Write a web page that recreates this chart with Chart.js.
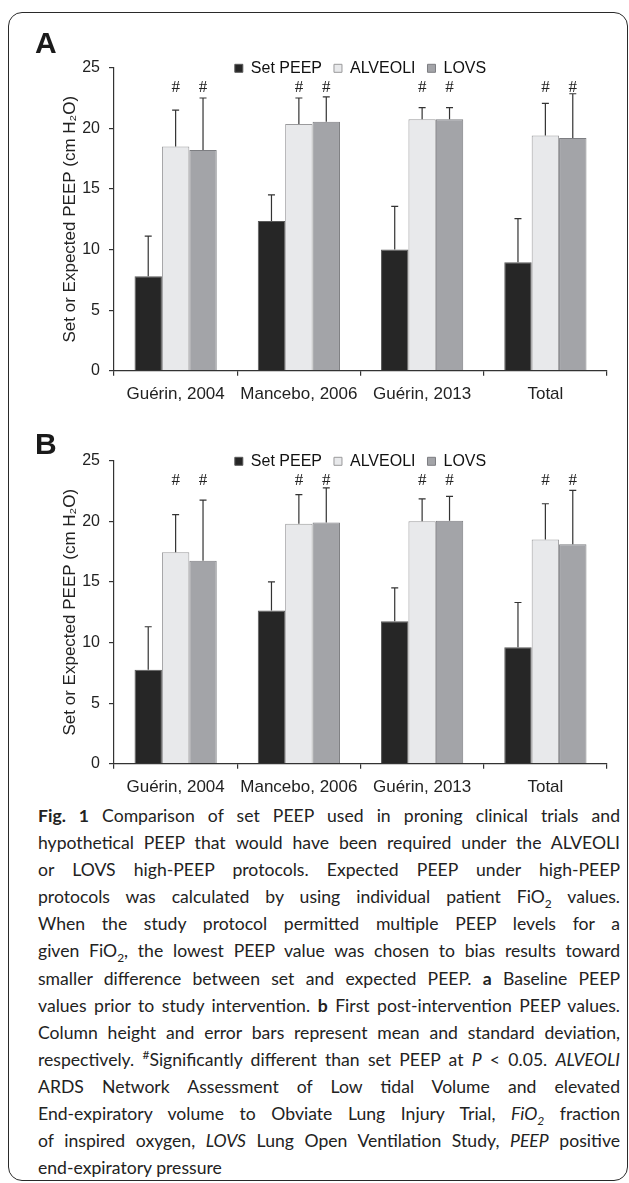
<!DOCTYPE html>
<html>
<head>
<meta charset="utf-8">
<script src="https://cdn.jsdelivr.net/npm/chart.js@4.4.1/dist/chart.umd.min.js"></script>
<style>
  html, body { margin: 0; padding: 0; background: #fff; }
  body { width: 629px; height: 1183px; position: relative; overflow: hidden; }
  .frame { position: absolute; left: 8px; top: 12px; width: 618px; height: 1167px;
           border: 1.5px solid #2a2a2a; border-radius: 14px; }
  .panel { position: absolute; left: 0; width: 629px; height: 405px; }
  .letter { position: absolute; left: 35px; font: bold 30px/30px 'Liberation Sans', Arial, sans-serif; color: #1a1a1a; }
  .caption { position: absolute; left: 38px; top: 802px; width: 582px; font-family: Lato, 'Open Sans', sans-serif;
             font-size: 17.6px; line-height: 27.1px; color: #222; }
  .caption div { text-align: justify; text-align-last: justify; white-space: nowrap; }
  .caption div.last { text-align-last: left; }
  .caption sub, .caption sup { font-size: 68%; line-height: 0; }
</style>
</head>
<body>
<div class="frame"></div>

<div class="panel" style="top:0px"><canvas id="chart-a"></canvas></div>
<div class="panel" style="top:392.6px"><canvas id="chart-b"></canvas></div>
<div class="letter" style="top:27.8px">A</div>
<div class="letter" style="top:429.1px">B</div>

<div class="caption">
  <div><b>Fig. 1</b> Comparison of set PEEP used in proning clinical trials and</div>
  <div>hypothetical PEEP that would have been required under the ALVEOLI</div>
  <div>or LOVS high-PEEP protocols. Expected PEEP under high-PEEP</div>
  <div>protocols was calculated by using individual patient FiO<sub>2</sub> values.</div>
  <div>When the study protocol permitted multiple PEEP levels for a</div>
  <div>given FiO<sub>2</sub>, the lowest PEEP value was chosen to bias results toward</div>
  <div>smaller difference between set and expected PEEP. <b>a</b> Baseline PEEP</div>
  <div>values prior to study intervention. <b>b</b> First post-intervention PEEP values.</div>
  <div>Column height and error bars represent mean and standard deviation,</div>
  <div>respectively. <sup>#</sup>Significantly different than set PEEP at <i>P</i> &lt; 0.05. <i>ALVEOLI</i></div>
  <div>ARDS Network Assessment of Low tidal Volume and elevated</div>
  <div>End-expiratory volume to Obviate Lung Injury Trial, <i>FiO<sub>2</sub></i> fraction</div>
  <div>of inspired oxygen, <i>LOVS</i> Lung Open Ventilation Study, <i>PEEP</i> positive</div>
  <div class="last">end-expiratory pressure</div>
</div>

<script>
'use strict';

// ***** DATA *****

let categories = ['Guérin, 2004', 'Mancebo, 2006', 'Guérin, 2013', 'Total'];
let seriesLabels = ['Set PEEP', 'ALVEOLI', 'LOVS'];
let yTicks = [0, 5, 10, 15, 20, 25];
let markedSeries = [false, true, true];   // '#' = different from set PEEP

// panel A, baseline (mean and SD)
let setPeepA = [7.8, 12.35, 10.0, 8.95];
let setPeepSdA = [3.3, 2.15, 3.55, 3.6];
let alveoliA = [18.5, 20.35, 20.75, 19.4];
let alveoliSdA = [3.0, 2.15, 0.95, 2.65];
let lovsA = [18.2, 20.55, 20.75, 19.2];
let lovsSdA = [4.3, 2.05, 0.95, 3.65];

// panel B, first post-intervention
let setPeepB = [7.75, 12.65, 11.75, 9.6];
let setPeepSdB = [3.55, 2.35, 2.75, 3.7];
let alveoliB = [17.45, 19.8, 20.0, 18.5];
let alveoliSdB = [3.1, 2.4, 1.85, 2.95];
let lovsB = [16.75, 19.9, 20.05, 18.1];
let lovsSdB = [5.0, 2.85, 2.0, 4.45];

// ***** STYLE *****

let barFills = ['#262626', '#e8e9eb', '#a3a4a8'];
let barEdges = ['#5a5a5a', '#9a9a9c', '#7d7e82'];

Chart.defaults.font.family = "'Liberation Sans', Arial, sans-serif";
Chart.defaults.color = '#222';

// ***** PLUGINS *****

// error bars (mean + SD, upper half only) and the '#' marks
let errorBars = {
    id: 'errorBars',
    afterDatasetsDraw(chart) {
        let ctx = chart.ctx;
        let y = chart.scales.y;
        chart.data.datasets.forEach((ds, i) => {
            let meta = chart.getDatasetMeta(i);
            meta.data.forEach((bar, j) => {
                let top = y.getPixelForValue(ds.data[j] + ds.sd[j]);
                ctx.save();
                ctx.strokeStyle = '#333';
                ctx.lineWidth = 1.2;
                ctx.beginPath();
                ctx.moveTo(bar.x, bar.y);
                ctx.lineTo(bar.x, top);
                ctx.moveTo(bar.x - 3.5, top);
                ctx.lineTo(bar.x + 3.5, top);
                ctx.stroke();
                if (ds.marked) {
                    ctx.fillStyle = '#222';
                    ctx.font = "17px 'Liberation Serif', serif";
                    ctx.textAlign = 'center';
                    ctx.textBaseline = 'middle';
                    ctx.fillText('#', bar.x, y.getPixelForValue(23.4));
                }
                ctx.restore();
            });
        });
    }
};

// legend sits level with the top tick, as in the original
let legendNudge = {
    id: 'legendNudge',
    afterLayout(chart) {
        let lg = chart.legend;
        if (!lg) return;
        let cur = lg.top + lg.options.labels.padding + 8;
        let dy = chart.chartArea.top + 0.6 - cur;
        lg.top += dy;
        lg.bottom += dy;
    }
};

// ***** CHART BUILDER *****

function buildChart(canvasId, means, sds) {
    let datasets = seriesLabels.map((label, i) => ({
        label: label,
        data: means[i],
        sd: sds[i],
        marked: markedSeries[i],
        backgroundColor: barFills[i],
        borderColor: barEdges[i],
        borderWidth: 1,
        categoryPercentage: 0.667,
        barPercentage: 1.0
    }));

    new Chart(document.getElementById(canvasId), {
        type: 'bar',
        data: { labels: categories, datasets: datasets },
        options: {
            responsive: true,
            maintainAspectRatio: false,
            animation: false,
            layout: { padding: { top: 29.7, right: 22, bottom: 0, left: 0 } },
            plugins: {
                legend: {
                    position: 'top',
                    fullSize: false,
                    labels: { boxWidth: 8, boxHeight: 8, padding: 12, color: '#111', font: { size: 16 } }
                },
                tooltip: { enabled: false }
            },
            scales: {
                x: {
                    grid: { drawOnChartArea: false, drawTicks: true, tickLength: 5, offset: true, color: '#333', lineWidth: 1.2 },
                    border: { color: '#333', width: 1.2 },
                    ticks: { color: '#222', font: { size: 17 }, padding: 8, maxRotation: 0, autoSkip: false },
                    afterFit: (s) => { s.height = 34.3; }
                },
                y: {
                    min: 0,
                    max: 25,
                    afterBuildTicks: (s) => { s.ticks = yTicks.map(v => ({ value: v })); },
                    grid: { drawOnChartArea: false, tickLength: 5, color: '#333', lineWidth: 1.2 },
                    border: { color: '#333', width: 1.2 },
                    ticks: { color: '#222', font: { size: 16 }, padding: 9 },
                    title: {
                        display: true,
                        text: 'Set or Expected PEEP (cm H₂O)',
                        color: '#222',
                        font: { size: 17 },
                        padding: { top: 60, bottom: 0 }
                    },
                    afterFit: (s) => { s.width = 114; }
                }
            }
        },
        plugins: [errorBars, legendNudge]
    });
}

// ***** EXECUTABLE CODE *****

buildChart('chart-a', [setPeepA, alveoliA, lovsA], [setPeepSdA, alveoliSdA, lovsSdA]);
buildChart('chart-b', [setPeepB, alveoliB, lovsB], [setPeepSdB, alveoliSdB, lovsSdB]);
</script>
</body>
</html>
